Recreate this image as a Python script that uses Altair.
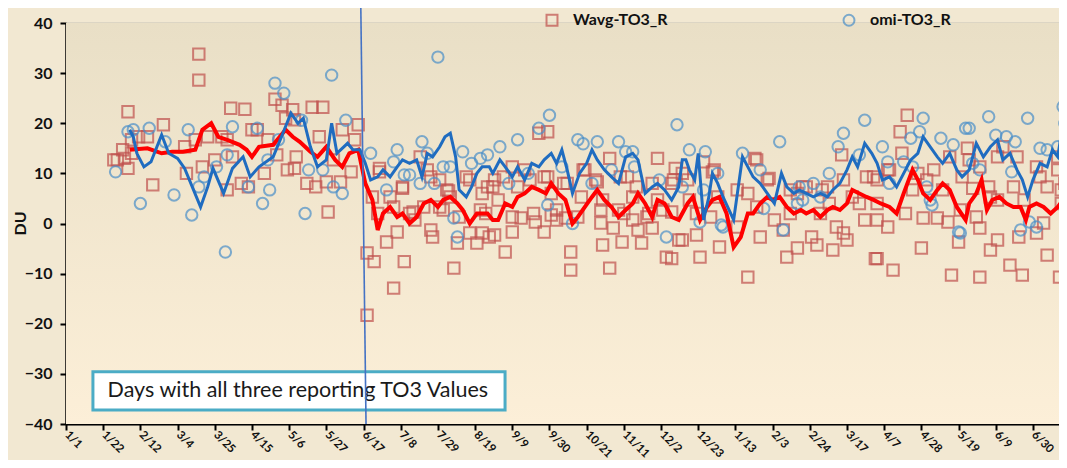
import altair as alt
import pandas as pd

START = pd.Timestamp("2012-01-01")

# ---- x tick labels (every 21 days) ----
tick_labels = ["1/1", "1/22", "2/12", "3/4", "3/25", "4/15", "5/6", "5/27", "6/17",
               "7/8", "7/29", "8/19", "9/9", "9/30", "10/21", "11/11", "12/2", "12/23",
               "1/13", "2/3", "2/24", "3/17", "4/7", "4/28", "5/19", "6/9", "6/30"]
y_ticks = [-40, -30, -20, -10, 0, 10, 20, 30, 40]

# ---- series: (days since 2012-01-01, DU) ----
red_line = [(36,14.7),(46,15),(54,14),(60,14.3),(66,14.3),(73,14.7),(77,18.7),(82,20),(86,17.3),(91,16.7),
    (98,15.7),(102,14.7),(105,13.3),(109,15.3),(117,15.7),(124,18.7),(128,17.3),(132,16.3),(138,14.3),(142,13.3),
    (147,15.3),(152,12.7),(156,11.3),(160,14),(165,14.7),(169,8),(173,4.7),(176,-1.3),(179,2),(183,3.3),
    (187,1.3),(190,2),(194,0),(198,1.3),(202,4),(206,4.7),(210,3.3),(213,4.7),(217,5.3),(221,4),
    (224,2.7),(228,0),(232,2),(238,2),(241,0.7),(244,0.7),(248,4),(252,3.3),(255,5.3),(259,6),
    (263,7.3),(267,6.7),(271,6),(274,8),(278,6),(282,4.7),(286,0),(289,1.3),(293,3.3),(297,5.3),
    (300,6.7),(304,4.7),(308,3.3),(312,1.3),(316,2.7),(320,4),(323,6),(327,4),(331,1.3),(334,4.7),
    (338,4),(342,1.3),(346,0.7),(351,4),(354,5.3),(358,0.7),(362,3.3),(365,4.7),(369,5.3),(373,2),
    (377,-4.7),(381,-2.7),(385,2),(388,2),(392,4),(396,5.3),(399,4.7),(403,5.3),(407,3.3),(411,2),
    (415,2.7),(418,2),(422,2.7),(426,1.3),(430,2.7),(433,3.3),(437,2.7),(441,4),(444,6.7),(448,6),
    (452,5.3),(456,4.7),(460,4),(465,3.3),(469,2),(473,6),(478,10.7),(481,8.7),(484,6),(488,4.7),
    (492,6.7),(495,8),(499,6.7),(503,3.3),(508,0.7),(510,4),(514,6),(517,8.7),(520,2.7),(523,4.7),
    (527,5.3),(531,4),(535,3.3),(539,3.3),(542,0.7),(544,3.3),(548,4),(552,3.3),(556,2),(560,3.3),(563,4.7)]

blue_line = [(36,18.7),(38,17.3),(40,14),(44,11.3),(48,12.3),(54,17.7),(58,14),(63,13),(67,11),(76,3.3),
    (80,7.3),(83,11),(89,6),(94,11),(100,13.3),(104,9.3),(109,11.3),(117,13.3),(121,16.7),(127,22),
    (131,20),(134,21),(138,15.3),(142,11.3),(147,12.7),(150,20),(153,14),(159,16),(162,14.7),(166,14.7),
    (169,12),(172,8.7),(176,9.3),(179,10.7),(183,9.3),(187,11.3),(190,12.7),(194,12),(198,12.7),(201,9.3),
    (204,14),(207,13.3),(211,15.3),(214,17.3),(217,18),(220,13.3),(222,6.7),(226,5.3),(229,7.3),(232,10),
    (235,11.3),(239,11.3),(241,10),(245,12.7),(248,11.3),(252,9.3),(255,11.3),(259,8.7),(263,12),(267,11.3),
    (270,12.7),(274,14),(277,12),(280,14.7),(283,10.7),(286,6),(290,10),(294,12),(297,14.7),(300,12.7),
    (304,10.7),(308,9.3),(312,8),(316,13.3),(320,14),(323,12.7),(327,6),(331,7.3),(334,8),(338,6.7),
    (342,4.7),(346,7.3),(348,12.7),(350,12.7),(352,10.7),(355,8.7),(357,14),(360,0.7),(363,5.3),(365,10),
    (368,8),(371,5.3),(377,0.7),(382,13.3),(385,11.3),(388,9.3),(392,8),(396,6),(400,4),(404,10),
    (407,7.3),(411,6),(414,6.7),(418,6),(422,5.3),(426,6),(430,5.3),(433,6.7),(437,8),(441,10.7),
    (444,13.3),(447,11.3),(451,16),(455,14),(458,12),(461,8.7),(465,9.3),(469,7.3),(473,10),(477,12.7),
    (481,14),(484,17.3),(488,15.3),(492,13.3),(495,12),(499,14),(503,10.7),(506,9.3),(510,10.7),(514,16),
    (518,13.3),(522,15.3),(526,16.7),(529,12.7),(533,14),(537,10.7),(540,8.7),(543,5.3),(546,8.7),(550,12),
    (554,11.3),(557,14.7),(560,13.3),(563,20),(565,20)]

wavg_points = [(75,33.8),(75,28.6),(35,22.3),(93,23),(101,22.8),(55,19.7),(27,12.7),(29,12.7),(32,14.7),(35,11),
    (37,16.7),(41,17.3),(46,17.3),(49,7.7),(67,15.3),(68,10),(73,16.7),(77,11.3),(80,17.3),(84,12.7),
    (88,17.3),(91,16.7),(91,6.7),(94,13.3),(99,8),(103,7.3),(105,18.7),(108,18.7),(112,10),(114,16.7),
    (118,24.8),(122,23.6),(124,21),(119,13.7),(125,10.7),(128,22.7),(129,20.7),(33,13),(37,14),(139,23.2),
    (145,23.2),(143,17.3),(130,13.3),(129,11),(136,8),(141,7.3),(147,8.3),(148,2.3),(155,8.3),(156,18.7),
    (163,16.7),(165,19.7),(161,10.3),(151,12.7),(170,-5.9),(174,-7.6),(185,-12.9),(170,-18.3),(181,-3.7),(187,-1.7),
    (191,-7.6),(177,11),(173,5.3),(183,5.3),(190,7.3),(200,13.3),(204,10.7),(202,3.3),(206,-1.3),(207,-2.7),
    (211,8.7),(215,6.7),(217,5.3),(219,-8.9),(221,-3.9),(228,8.7),(228,-1.9),(232,-3.9),(235,-1.9),(235,6),
    (213,2.7),(196,2.3),(197,0.7),(267,18),(272,18.3),(307,13),(334,13),(344,11),(239,-2.7),(242,-2.3),
    (248,-5.7),(252,-1.7),(257,1.1),(265,0.3),(270,-1.7),(274,1.7),(277,0.7),(282,1.1),(285,-5.7),(285,-9.3),
    (293,10.7),(302,0.1),(303,-4.3),(307,-8.9),(309,-0.9),(314,-3.7),(317,9.3),(323,-1.3),(325,-3.9),(331,-0.9),
    (339,-6.7),(342,-7),(346,-3.3),(342,8),(320,5.3),(334,4.7),(242,8.7),(252,11.3),(259,10.7),(270,9.3),
    (283,8),(299,8.7),(241,7.3),(255,7.3),(274,6),(291,5.3),(303,4.7),(244,4.7),(237,2),(312,2.7),
    (320,0.7),(329,2),(342,2.3),(389,13),(438,13.7),(385,-10.7),(358,-6.7),(369,-4.7),(356,-2.3),(348,-3.3),
    (365,10.3),(360,12.3),(351,8.7),(352,4.7),(356,2),(364,1.3),(368,5.3),(379,-0.7),(385,6),(392,-2.7),
    (390,3.3),(396,8.7),(400,0.7),(405,-1.3),(407,-6.7),(409,2),(413,-4.9),(416,7.3),(421,-2.7),(424,-4.3),
    (426,2),(430,7.3),(433,-5.3),(435,-0.7),(439,-1.9),(441,-3.3),(444,5.3),(451,0.7),(456,9.3),(457,-7),
    (413,6),(431,4),(448,4),(458,4),(475,21.6),(471,18.3),(472,14),(458,8.7),(465,10.7),(478,6.7),
    (458,0.7),(464,-0.7),(458,-7),(467,-9.3),(474,2),(483,-4.9),(484,1.1),(490,10.7),(492,1.1),(495,6.7),
    (499,13.3),(498,0.3),(500,-10.3),(504,-3.7),(505,2.7),(509,15),(510,12.7),(512,7),(516,-0.9),(516,-10.7),
    (521,7.3),(522,-5.3),(526,-3.3),(526,4.7),(529,15.3),(537,13.3),(533,-8.3),(540,-10.3),(538,-2.7),(541,4.7),
    (548,11.3),(548,-1.9),(552,0.1),(554,-6.3),(554,7.3),(561,-10.7),(560,13.3),(564,8),(562,4),(522,5.3),
    (514,1.3),(481,10),(486,8.7),(177,10.3),(190,7),(206,9.3),(216,6.5),(226,9.3),(238,7.3),(247,9.3),
    (262,8.7),(272,9.3),(281,8),(292,10.7),(300,8.3),(313,9.3),(322,7.3),(331,8),(343,8.7),(348,10),
    (176,2),(185,3.3),(194,2),(211,3.3),(222,1.3),(234,2.7),(252,1.3),(264,2),(277,2.7),(289,1.3),
    (302,2.7),(315,2),(328,1.3),(337,2.7),(366,10.7),(379,6.7),(390,12.7),(397,9),(409,6.7),(418,7.3),
    (427,6.7),(439,8.7),(452,9.3),(464,10.7),(506,9.3),(516,11.3),(526,13.3),(535,7.3),(550,9.3),(560,10.7),(562,6.7)]

omi_points = [(28,10.3),(35,18.3),(38,18.7),(47,19),(42,4),(56,16.3),(61,5.7),(69,18.7),(71,1.7),(75,7.3),
    (78,9.3),(85,11.3),(90,-5.7),(94,19.3),(91,13.7),(103,7.3),(108,19),(111,4),(115,6.7),(114,12.7),
    (118,28),(123,26),(120,16.7),(150,29.6),(210,33.2),(158,20.6),(156,6),(135,2),(133,20.6),(151,7.3),
    (145,10.7),(137,10.7),(187,14.7),(201,16.3),(204,14),(194,9.7),(185,12.3),(181,6.7),(200,8),(208,8),
    (213,11.3),(224,14.3),(229,12),(234,13),(238,13.7),(219,1.1),(221,-2.7),(217,11.3),(273,21.6),(267,19),
    (255,16.7),(245,15.3),(289,16.7),(292,15.9),(300,16.3),(312,16.3),(316,14.3),(320,14.3),(345,19.7),(321,11.3),
    (308,10.7),(280,11.3),(272,3.7),(286,0),(335,8.7),(339,-2.7),(250,8),(261,10),(297,8),(352,14.7),
    (361,14.3),(382,14),(403,16.3),(439,18),(451,20.6),(436,15.3),(448,13.7),(431,10),(348,7.3),(358,0.3),
    (370,-0.3),(392,10.7),(394,3),(405,-1.3),(414,7.3),(422,8),(426,5.3),(368,10),(413,4),(484,21),
    (521,21.3),(543,21),(563,23.3),(564,20),(461,15.3),(477,17),(482,18.3),(494,17),(501,15.7),(508,19),
    (510,19),(525,17.6),(531,17.3),(536,16.3),(550,15),(560,15.3),(473,12.3),(465,8),(486,7.3),(489,3.7),
    (504,-1.7),(516,10.7),(534,10.3),(548,-0.7),(539,-1.3),(544,0.3),(371,-0.7),(505,-1.9),(360,6.7),(416,4.7),
    (464,12.3),(478,11.3),(488,4.7),(512,12),(554,14.7),(172,14),(191,9.7)]

series_names = ["Wavg-TO3_R", "omi-TO3_R"]
series_colors = ["#c0504d", "#4a8fc9"]
series_shapes = ["square", "circle"]

note_text = "Days with all three reporting TO3 Values"


def to_date(d):
    return (START + pd.Timedelta(days=d)).strftime("%Y-%m-%dT%H:%M:%S")


def frame(pairs, name=None):
    df = pd.DataFrame({"date": [to_date(d) for d, _ in pairs],
                       "value": [v for _, v in pairs]})
    if name is not None:
        df["series"] = name
    return df


points_df = pd.concat([frame(wavg_points, series_names[0]), frame(omi_points, series_names[1])])
red_df = frame(red_line)
blue_df = frame(blue_line)

# tick dates (year rolls over after 12/23)
tick_values = []
year = 2012
prev_m = 0
for lab in tick_labels:
    m, d = (int(t) for t in lab.split("/"))
    if m < prev_m:
        year += 1
    prev_m = m
    tick_values.append(alt.DateTime(year=year, month=m, date=d))

FONT = "Lato"
x_scale = alt.Scale(domain=[alt.DateTime(year=2012, month=1, date=1),
                            alt.DateTime(year=2013, month=7, date=14, hours=17)])
y_scale = alt.Scale(domain=[-40, 40], nice=False)

x_axis = alt.Axis(values=tick_values, format="%-m/%-d", labelAngle=45, labelAlign="left",
                  labelBaseline="middle", labelFontSize=11.5, labelFontWeight="bold", labelColor="#111",
                  labelFont=FONT, labelPadding=3, labelOverlap=False, labelBound=False, labelFlush=False,
                  domainColor="black", domainWidth=2, tickColor="black", tickWidth=2, tickSize=6,
                  grid=False, title=None)
y_axis = alt.Axis(values=y_ticks, labelFontSize=16, labelFontWeight="bold", labelColor="#111",
                  labelFont=FONT, labelPadding=8, domainColor="black", domainWidth=2.5,
                  tickColor="black", tickWidth=2, tickSize=6, grid=True, gridColor="#9c9c9c",
                  gridWidth=1.6, title="DU", titleFont=FONT, titleFontSize=16, titleFontWeight="bold",
                  titleColor="#111", titleX=-46, titleY=200, titleAngle=270, titleAlign="center",
                  titleBaseline="middle")


def X(field="date", **kw):
    return alt.X(field, type="temporal", scale=x_scale, axis=x_axis, **kw)


def Y(field="value", **kw):
    return alt.Y(field, type="quantitative", scale=y_scale, axis=y_axis, **kw)


# plot-area background gradient
bg = alt.Chart(pd.DataFrame({"k": [0]})).mark_rect(
    color=alt.LinearGradient(gradient="linear", x1=0, x2=0, y1=0, y2=1,
                             stops=[alt.GradientStop(color="#e9dfc6", offset=0),
                                    alt.GradientStop(color="#fcefd8", offset=1)])
).encode(x=alt.value(0), x2=alt.value("width"), y=alt.value(0), y2=alt.value("height"))

# annotation box
box_df = pd.DataFrame({"x1": ["2012-01-16T05:00:00"], "x2": ["2012-09-04T22:00:00"],
                       "y1": [-29.6], "y2": [-37.2], "tx": ["2012-01-24T12:00:00"], "ty": [-33.4],
                       "label": [note_text]})
box = alt.Chart(box_df).mark_rect(fill="white", stroke="#4bacc6", strokeWidth=3).encode(
    x=X("x1"), x2="x2", y=Y("y1"), y2="y2")
box_text = alt.Chart(box_df).mark_text(align="left", baseline="middle", font=FONT, fontSize=21.5,
                                       color="#1a1a1a").encode(x=X("tx"), y=Y("ty"), text="label")

points = alt.Chart(points_df).mark_point(filled=False, size=130, strokeWidth=2).encode(
    x=X(), y=Y(),
    color=alt.Color("series:N", scale=alt.Scale(domain=series_names, range=series_colors),
                    legend=alt.Legend(orient="none", legendX=478, legendY=-11, direction="horizontal",
                                      title=None, labelFont=FONT, labelFontSize=16,
                                      labelFontWeight="bold", labelColor="#111", columnPadding=171,
                                      symbolStrokeWidth=2, symbolSize=120, labelOffset=13)),
    shape=alt.Shape("series:N", scale=alt.Scale(domain=series_names, range=series_shapes)),
    order=alt.Order("series:N", sort="ascending"),
)

red = alt.Chart(red_df).mark_line(color="#ff0000", strokeWidth=4).encode(x=X(), y=Y())
blue = alt.Chart(blue_df).mark_line(color="#1f6cc0", strokeWidth=3).encode(x=X(), y=Y())

marker_df = pd.DataFrame({"t1": ["2012-06-15T10:00:00"], "t2": ["2012-06-18T10:00:00"],
                          "v1": [44.6], "v2": [-40]})
marker = alt.Chart(marker_df).mark_rule(color="#4472c4", strokeWidth=1.6).encode(
    x=X("t1"), x2="t2", y=Y("v1"), y2="v2")

chart = alt.layer(bg, box, box_text, points, red, blue, marker).properties(
    width=993, height=401,
    autosize=alt.AutoSizeParams(type="none"),
    padding={"left": 58, "top": 15, "right": 0, "bottom": 36},
    background="#f2e8d2",
).configure_view(stroke=None)

chart.save("out.html", embed_options={"renderer": "svg", "actions": False})
